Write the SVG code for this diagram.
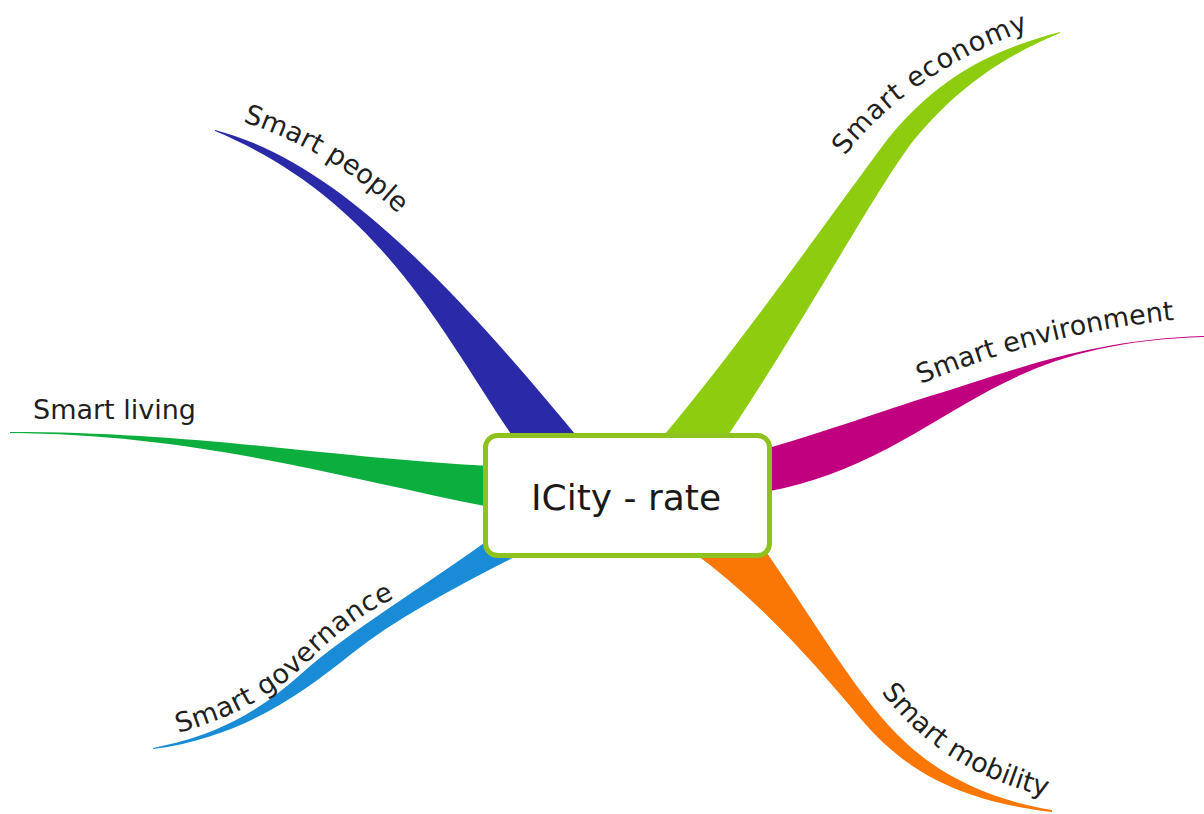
<svg xmlns="http://www.w3.org/2000/svg" xmlns:xlink="http://www.w3.org/1999/xlink" width="1204" height="814" viewBox="0 0 1204 814">
<style>
.lbl{font-family:"DejaVu Sans","Liberation Sans",sans-serif;font-size:27px;fill:#1f1f1f;}
.center{font-family:"DejaVu Sans","Liberation Sans",sans-serif;font-size:36px;fill:#1a1a1a;}
.box{fill:#ffffff;stroke:#8dc21f;stroke-width:5;}
</style>
<defs>
<path id="p-people" d="M 243,122 C 292,138 355,168 410,226"/>
<path id="p-economy" d="M 845,156 C 882,106 950,55 1040,26"/>
<path id="p-env" d="M 921,384 C 990,355 1080,328 1185,319"/>
<path id="p-gov" d="M 178,733 C 240,716 280,690 310,660 C 340,630 370,608 404,594"/>
<path id="p-mob" d="M 881,692 C 915,735 960,775 1048,797"/>
</defs>
<rect width="1204" height="814" fill="#ffffff"/>
<g id="connectors">
<path id="c-people" fill="#2a2aa8" d="M215,130 C 330,160 440,270 580,440 L 515,440 C 440,330 380,200 215,131 Z"/>
<path id="c-economy" fill="#8dcc0f" d="M 660,440 C 740,345 820,230 887,140 C 935,80 990,50 1060,32 L 1060,33 C 995,60 950,95 910,145 C 870,200 805,320 725,440 Z"/>
<path id="c-env" fill="#c0007f" d="M 765,449 C 830,430 880,412 930,396 C 1000,376 1080,340 1204,336 L 1204,337 C 1110,340 1050,358 990,390 C 920,428 860,475 765,492 Z"/>
<path id="c-living" fill="#0cae3e" d="M10,432 C 200,432 330,458 490,466 L 490,507 C 350,480 200,434 10,433 Z"/>
<path id="c-gov" fill="#1a8bd6" d="M153,748 C 220,735 260,710 300,675 C 350,630 420,590 495,535 L 528,550 C 460,585 400,615 350,655 C 300,695 240,738 153,749 Z"/>
<path id="c-mob" fill="#fb7705" d="M 690,550 C 760,600 820,670 860,718 C 900,765 950,800 1052,812 L 1052,810 C 990,800 940,775 905,742 C 860,700 820,630 765,550 Z"/>
</g>
<g id="node-icity">
<rect class="box" x="485.5" y="435.5" width="284" height="120" rx="12"/>
<text class="center" x="626" y="510" text-anchor="middle">ICity - rate</text>
</g>
<g id="node-smart-people"><text class="lbl"><textPath xlink:href="#p-people" href="#p-people">Smart people</textPath></text></g>
<g id="node-smart-economy"><text class="lbl"><textPath xlink:href="#p-economy" href="#p-economy" textLength="226" lengthAdjust="spacing">Smart economy</textPath></text></g>
<g id="node-smart-environment"><text class="lbl"><textPath xlink:href="#p-env" href="#p-env">Smart environment</textPath></text></g>
<g id="node-smart-living"><text class="lbl" x="33" y="419">Smart living</text></g>
<g id="node-smart-governance"><text class="lbl"><textPath xlink:href="#p-gov" href="#p-gov" textLength="258" lengthAdjust="spacing">Smart governance</textPath></text></g>
<g id="node-smart-mobility"><text class="lbl"><textPath xlink:href="#p-mob" href="#p-mob">Smart mobility</textPath></text></g>
</svg>
